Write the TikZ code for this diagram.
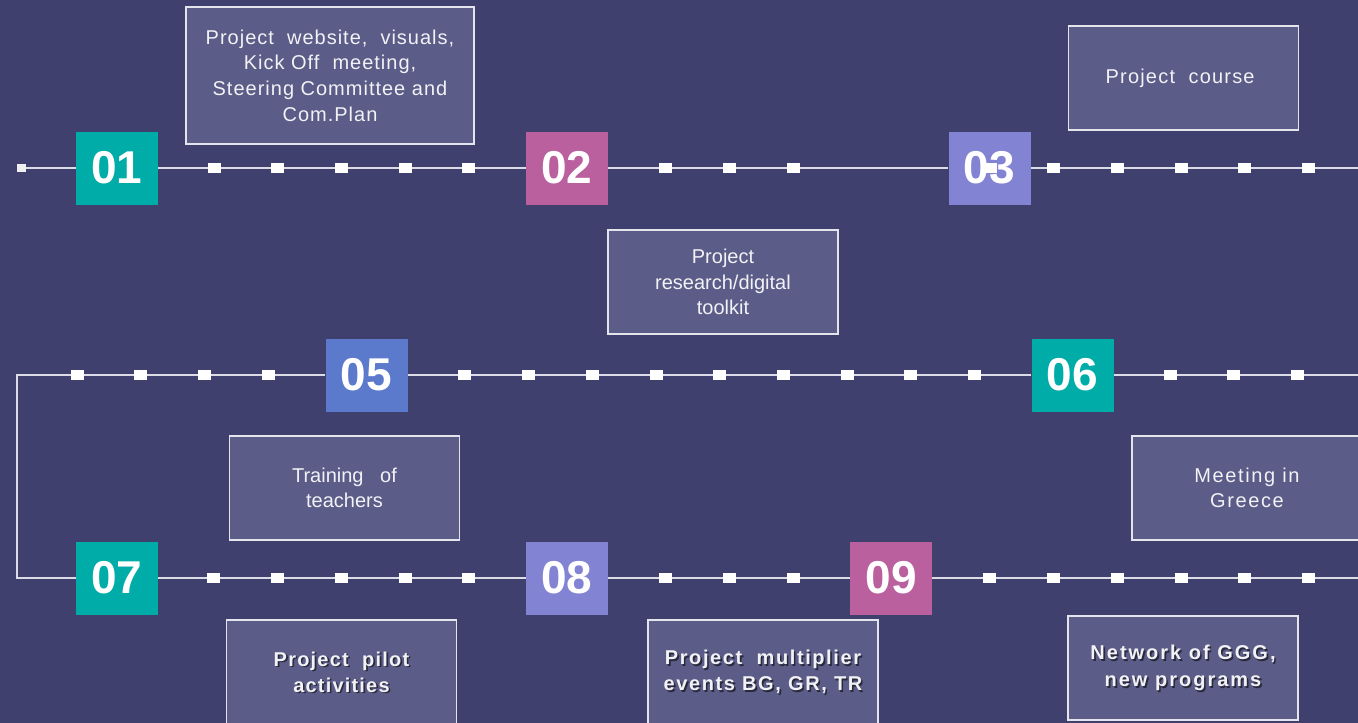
\documentclass[tikz,border=0pt]{standalone}
\usepackage{fontspec}
\setmainfont{Liberation Sans}
\definecolor{bgc}{HTML}{3F406E}
\definecolor{boxfill}{HTML}{5B5C87}
\definecolor{boxline}{HTML}{E4E4EC}
\definecolor{linec}{HTML}{DCDCE6}
\definecolor{tealc}{HTML}{00ACA8}
\definecolor{magc}{HTML}{BA609F}
\definecolor{lavc}{HTML}{8383D3}
\definecolor{bluec}{HTML}{5B7ACB}
\definecolor{txtc}{HTML}{F2F2F6}
\pgfdeclarelayer{bgfill}
\pgfdeclarelayer{lines}
\pgfsetlayers{bgfill,lines,main}
\tikzset{
  tl/.style={draw=linec, line width=2pt},
  sq/.style={fill=white, draw=none, minimum width=13pt, minimum height=10pt, inner sep=0pt},
  sqsmall/.style={fill=white!92!bgc, draw=none, minimum width=9pt, minimum height=8pt, inner sep=0pt},
  nbox/.style={draw=none, minimum width=82pt, minimum height=73pt, inner sep=0pt, text=white,
    font=\fontsize{46}{46}\selectfont\bfseries},
  tbox/.style={draw=boxline, fill=boxfill, line width=1.6pt, minimum width=230pt, minimum height=104pt,
    inner sep=0pt, align=center, text=txtc, font=\fontsize{20}{25.5}\selectfont},
  btxt/.style={align=center, text=txtc, inner sep=0pt,
    font=\fontsize{20}{26}\selectfont\bfseries\addfontfeature{LetterSpace=6}},
  bshadow/.style={btxt, text=black, opacity=0.55},
}
\begin{document}
\begin{tikzpicture}[x=1pt,y=-1pt]
\begin{pgfonlayer}{bgfill}
\fill[bgc] (0,0) rectangle (1358,723);
\end{pgfonlayer}
\useasboundingbox (0,0) rectangle (1358,723);

% line end coordinates
\coordinate (e1) at (1362,168);
\coordinate (e2) at (1362,375);
\coordinate (w2) at (17,375);
\coordinate (w3) at (17,578);
\coordinate (e3) at (1362,578);

% numbered boxes
\node[nbox, fill=tealc] (n01) at (117,168) {01};
\node[nbox, fill=magc]  (n02) at (567,168) {02};
\node[nbox, fill=lavc]  (n03) at (989.5,168) {03};
\node[nbox, fill=bluec] (n05) at (366.5,375) {05};
\node[nbox, fill=tealc] (n06) at (1072.5,375) {06};
\node[nbox, fill=tealc] (n07) at (117,578) {07};
\node[nbox, fill=lavc]  (n08) at (567,578) {08};
\node[nbox, fill=magc]  (n09) at (891,578) {09};

\node[sqsmall] (s0) at (21,168) {};

% timeline connectors (behind the boxes)
\begin{pgfonlayer}{lines}
\draw[tl] (s0) -- (n01) -- (n02) -- (n03) -- (e1);
\draw[tl] (e2) -- (n06) -- (n05) -- (w2) -- (w3) -- (n07) -- (n08) -- (n09) -- (e3);
\end{pgfonlayer}

% squares
\foreach \x [count=\i] in {214,277,341,405,468,665,729,793,990,1053,1117,1181,1244,1308}
  \node[sq] (sa\i) at (\x,168) {};
\foreach \x [count=\i] in {77,140,204,268,464,528,592,656,719,783,847,910,974,1170,1233,1297}
  \node[sq] (sb\i) at (\x,375) {};
\foreach \x [count=\i] in {213,277,341,405,468,665,729,793,989,1053,1117,1181,1244,1308}
  \node[sq] (sc\i) at (\x,578) {};

% text boxes
\node[tbox, minimum width=288pt, minimum height=137pt, font=\fontsize{20}{25.7}\selectfont\addfontfeature{LetterSpace=5}] (ta) at (330,75.5)
  {Project\ \ website,\ \ visuals,\\Kick Off\ \ meeting,\\Steering Committee and\\Com.Plan};
\node[tbox, font=\fontsize{20}{25.5}\selectfont\addfontfeature{LetterSpace=6}] (tb) at (1183.5,78) {Project\ \ course\ };
\node[tbox] (tc) at (723,282) {Project\\research/digital\\toolkit};
\node[tbox] (td) at (344.5,488) {Training\ \ \ of\\teachers\ };
\node[tbox, font=\fontsize{20}{25.5}\selectfont\addfontfeature{LetterSpace=8}] (te) at (1247,488) {Meeting in\ \\Greece\ };

\node[tbox] (tf) at (341.5,672) {};
\node[bshadow] at ([shift={(1.6,1.8)}]tf.center) {Project\ \ pilot\\activities};
\node[btxt] (tft) at (tf.center) {Project\ \ pilot\\activities};

\node[tbox] (tg) at (763,672) {};
\node[bshadow, font=\fontsize{20}{26}\selectfont\bfseries\addfontfeature{LetterSpace=8}] at ([shift={(1.6,1.8)}]tg.center) {Project\ \ multiplier\\events BG, GR, TR};
\node[btxt, font=\fontsize{20}{26}\selectfont\bfseries\addfontfeature{LetterSpace=8}] (tgt) at (tg.center) {Project\ \ multiplier\\events BG, GR, TR};

\node[tbox] (th) at (1183,668) {};
\node[bshadow, font=\fontsize{20}{27}\selectfont\bfseries\addfontfeature{LetterSpace=10}] at ([shift={(1.6,1.8)}]th.center) {Network of GGG,\\new programs};
\node[btxt, font=\fontsize{20}{27}\selectfont\bfseries\addfontfeature{LetterSpace=10}] (tht) at (th.center) {Network of GGG,\\new programs};
\end{tikzpicture}
\end{document}
